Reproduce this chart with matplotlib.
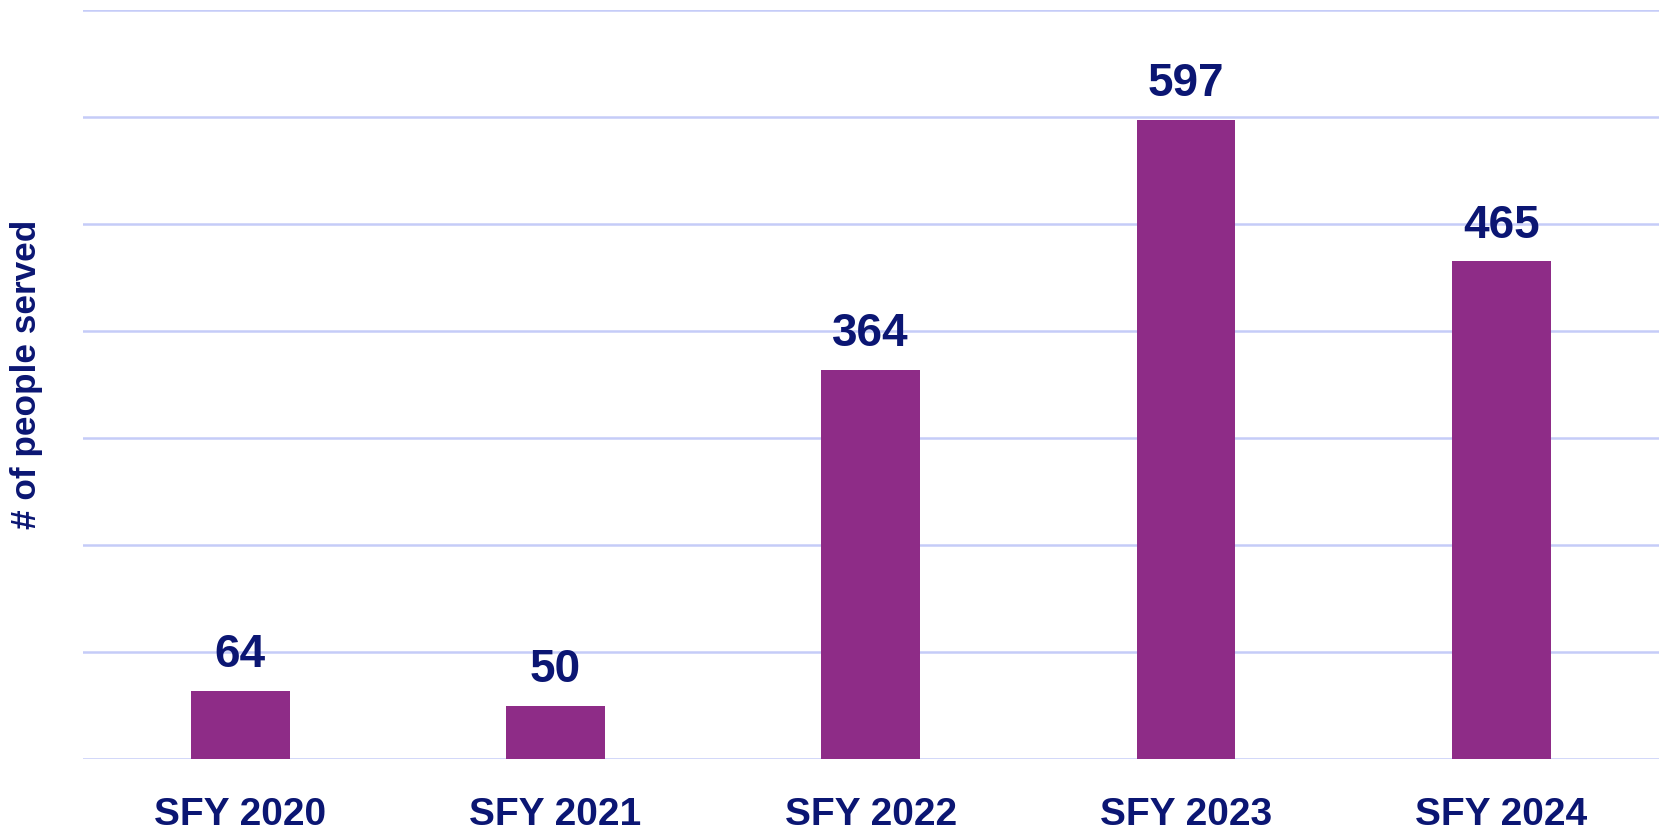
import matplotlib.pyplot as plt

years = ["SFY 2020", "SFY 2021", "SFY 2022", "SFY 2023", "SFY 2024"]
served = [64, 50, 364, 597, 465]

navy = "#0B1673"
purple = "#8E2C87"
gridColor = "#C5CCF8"

plt.rcParams['font.family'] = ['Liberation Sans', 'DejaVu Sans']

fig = plt.figure(figsize=(16.65, 8.31), dpi=100)
ax = fig.add_axes([0.0497, 0.0866, 0.9466, 0.9014])

xs = range(len(years))
ax.bar(xs, served, width=0.313, color=purple, zorder=3)
for x, v in zip(xs, served):
    ax.annotate(str(v), (x, v), xytext=(0, 10), textcoords="offset points",
        ha="center", va="bottom", fontsize=33, fontweight="bold", color=navy)

ax.set_xlim(-0.5, 4.5)
ax.set_ylim(0, 700)
ax.set_yticks(range(0, 701, 100))
ax.set_yticklabels([])
ax.grid(True, axis="y", color=gridColor, linewidth=1.8, zorder=0)
ax.set_xticks(list(xs))
ax.set_xticklabels(years, fontsize=28, fontweight="bold", color=navy)
ax.tick_params(axis="both", length=0)
ax.tick_params(axis="x", pad=27)
for s in ax.spines.values():
    s.set_visible(False)

fig.text(0.016, 0.55, "# of people served", rotation=90, ha="center", va="center",
    fontsize=25.3, fontweight="bold", color=navy)

fig.savefig("out.png", dpi=100)
